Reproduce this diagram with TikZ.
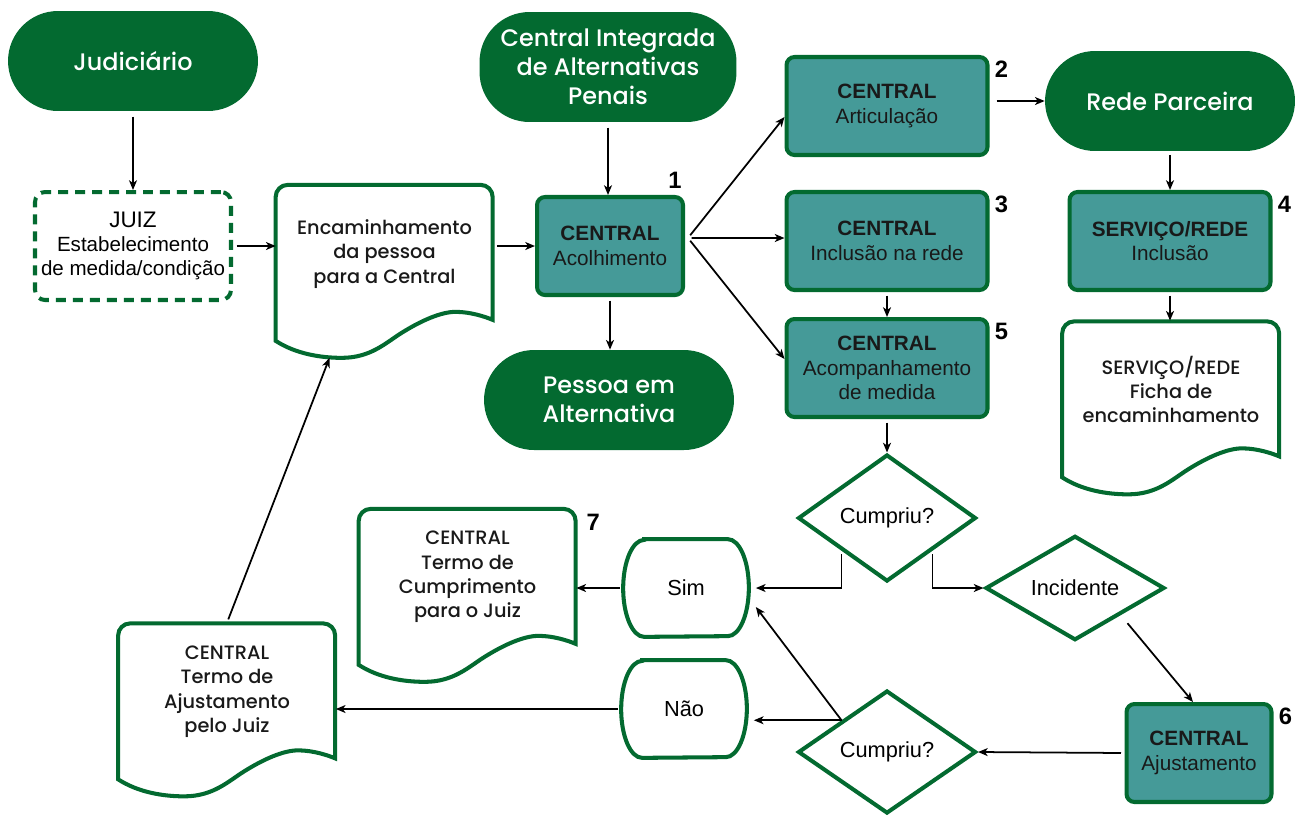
\documentclass[tikz,border=0pt]{standalone}
\usepackage{fontspec}
\setmainfont{Liberation Sans}
\newfontfamily\mont{Poppins Medium}
\usepackage{tikz}
\usetikzlibrary{positioning,calc,shapes,shapes.geometric,arrows.meta}

\definecolor{cjgreen}{HTML}{036A30}
\definecolor{cjteal}{HTML}{459A98}

% outline of a document symbol around an empty node
\newcommand\docshape[1]{%
  \begin{scope}[shift={(#1.south west)},x=1cm,y=1cm]
    \draw[cjgreen,line width=2.3pt] (0,0.34) .. controls (0.4,0.08) and (0.9,0) .. (1.32,0)
      .. controls (1.9,0) and (2.2,0.3) .. (2.52,0.5)
      .. controls (2.9,0.7375) and (3.3,0.92) .. (3.6,0.92)
      .. controls (3.9,0.92) and (4.2,0.82) .. (4.34,0.76)
      -- (4.34,3.22) arc[start angle=0,end angle=90,radius=0.24cm]
      -- (0.24,3.46) arc[start angle=90,end angle=180,radius=0.24cm] -- cycle;
  \end{scope}}
% outline with bulging ends around an answer node
\newcommand\answershape[1]{%
  \draw[cjgreen,line width=2.3pt] ([xshift=0.42cm]#1.north west) -- ([xshift=-0.42cm]#1.north east)
    arc[start angle=90,end angle=-90,x radius=0.42cm,y radius=0.97cm]
    -- ([xshift=0.42cm]#1.south west)
    arc[start angle=270,end angle=90,x radius=0.42cm,y radius=0.97cm] -- cycle;}

\begin{document}
\begin{tikzpicture}[x=0.02cm,y=-0.02cm,
    pill/.style={rectangle,rounded corners=1cm,fill=cjgreen,text=white,align=center,
      minimum width=5.0cm,minimum height=2.0cm,font=\mont\fontsize{13.6}{16.4}\selectfont},
    centralbox/.style={rectangle,rounded corners=0.16cm,fill=cjteal,draw=cjgreen,line width=2.3pt,
      align=center,text=black!90,minimum width=4.02cm,minimum height=1.96cm,
      font=\fontsize{11.8}{14}\selectfont},
    juizbox/.style={rectangle,rounded corners=0.2cm,draw=cjgreen,line width=2.3pt,
      dash pattern=on 0.2cm off 0.14cm,align=center,minimum width=3.92cm,minimum height=2.16cm,
      font=\fontsize{11.7}{13.9}\selectfont},
    doc/.style={rectangle,inner sep=0pt,minimum width=4.34cm,minimum height=3.46cm},
    doctext/.style={align=center,text=black!90,font=\mont\fontsize{11}{13.9}\selectfont},
    choice/.style={diamond,draw=cjgreen,line width=2.3pt,inner sep=0pt,
      minimum width=3.56cm,minimum height=2.54cm,font=\fontsize{12.4}{14}\selectfont},
    answer/.style={rectangle,minimum width=2.5cm,minimum height=1.94cm,
      font=\fontsize{12.4}{14}\selectfont},
    num/.style={inner sep=0pt,font=\bfseries\fontsize{13.5}{14}\selectfont},
    conn/.style={-{Stealth[length=5.5pt,width=4.5pt,inset=1.5pt]},line width=1pt,shorten <=2pt}]

  \useasboundingbox (0,0) rectangle (1304,816);

  % terminals
  \node[pill] (jud) at (133,61) {Judiciário};
  \node[pill,minimum width=5.14cm,minimum height=2.2cm] (cia) at (608,67) {Central Integrada\\de Alternativas\\Penais};
  \node[pill] (pessoa) at (609,400) {Pessoa em\\Alternativa};
  \node[pill] (rede) at (1170,101) {Rede Parceira};

  % judge
  \node[juizbox] (juiz) at (133,246) {{\fontsize{12.8}{13.9}\selectfont JUIZ}\\Estabelecimento\\de medida/condição};

  % documents
  \node[doc] (enc) at (384.5,271) {};
  \docshape{enc}
  \node[doctext] (enc-t) at ([yshift=0.34cm]enc.center) {Encaminhamento\\da pessoa\\para a Central};
  \node[doc] (ficha) at (1171,407.5) {};
  \docshape{ficha}
  \node[doctext] (ficha-t) at ([yshift=0.36cm]ficha.center) {SERVIÇO/REDE\\Ficha de\\encaminhamento};
  \node[doc] (tc) at (467.5,595) {};
  \docshape{tc}
  \node[doctext] (tc-t) at ([yshift=0.36cm]tc.center) {CENTRAL\\Termo de\\Cumprimento\\para o Juiz};
  \node[doc] (ta) at (227,709.5) {};
  \docshape{ta}
  \node[doctext] (ta-t) at ([yshift=0.36cm]ta.center) {CENTRAL\\Termo de\\Ajustamento\\pelo Juiz};

  % central boxes
  \node[centralbox,minimum width=2.92cm] (acol) at (610,246) {\textbf{CENTRAL}\\Acolhimento};
  \node[centralbox] (art) at (887,106) {\textbf{CENTRAL}\\Articulação};
  \node[centralbox] (inc) at (887,241) {\textbf{CENTRAL}\\Inclusão na rede};
  \node[centralbox] (acomp) at (887,368) {\textbf{CENTRAL}\\Acompanhamento\\de medida};
  \node[centralbox] (serv) at (1170,241) {\textbf{SERVIÇO/REDE}\\Inclusão};
  \node[centralbox,minimum width=2.9cm] (aj) at (1199,753) {\textbf{CENTRAL}\\Ajustamento};

  % decisions
  \node[choice] (cump1) at (887,518) {Cumpriu?};
  \node[choice,minimum width=3.58cm,minimum height=1.88cm] (incid) at (1075,588) {Incidente};
  \node[choice,minimum height=2.46cm] (cump2) at (887,752) {Cumpriu?};
  \node[answer] (sim) at (686,588) {Sim};
  \answershape{sim}
  \node[answer] (nao) at (684,709) {Não};
  \answershape{nao}

  % step numbers
  \node[num,anchor=south east] at ([xshift=-0.06cm,yshift=0.12cm]acol.north east) {1};
  \node[num,anchor=north west] at ([xshift=0.1cm,yshift=-0.12cm]art.north east) {2};
  \node[num,anchor=north west] at ([xshift=0.1cm,yshift=-0.12cm]inc.north east) {3};
  \node[num,anchor=north west] at ([xshift=0.1cm,yshift=-0.12cm]serv.north east) {4};
  \node[num,anchor=north west] at ([xshift=0.1cm,yshift=-0.12cm]acomp.north east) {5};
  \node[num,anchor=north west] at ([xshift=0.1cm,yshift=-0.12cm]aj.north east) {6};
  \node[num,anchor=north west] at ([xshift=0.2cm,yshift=-0.12cm]tc.north east) {7};

  % connectors
  \coordinate (fork) at ([xshift=0.06cm,yshift=0.16cm]acol.east);
  \draw[conn,shorten <=3pt] (jud.south) -- (juiz.north);
  \draw[conn] (juiz.east) -- (juiz.east -| enc.west);
  \draw[conn] (acol.west -| enc.east) -- (acol.west);
  \draw[conn,shorten <=3pt] (cia.south) -- (cia.south |- acol.north);
  \draw[conn] (acol.south) -- (acol.south |- pessoa.north);
  \draw[conn] (fork) -- ([yshift=-0.22cm]art.west);
  \draw[conn] (fork) -- ([yshift=0.06cm]inc.west);
  \draw[conn] (fork) -- ([yshift=0.18cm]acomp.west);
  \draw[conn,shorten <=4pt] (art.east |- rede.west) -- (rede.west);
  \draw[conn] (rede.south) -- (serv.north);
  \draw[conn] (serv.south) -- (serv.south |- ficha.north);
  \draw[conn] (inc.south) -- (acomp.north);
  \draw[conn] (acomp.south) -- (cump1.north);
  \draw[conn,shorten >=4pt] (cump1.south west) |- (sim.east);
  \draw[conn] (cump1.south east) |- (incid.west);
  \draw[conn,shorten <=6pt] (incid.south east) -- ([xshift=-0.12cm]aj.north);
  \draw[conn] (aj.west) -- (cump2.east);
  \draw[conn,shorten <=0pt] (cump2.north west) -- ([xshift=0.14cm,yshift=-0.38cm]sim.east);
  \draw[conn,shorten <=0pt,shorten >=4pt] (cump2.north west) -- (cump2.north west -| nao.east);
  \draw[conn] (sim.west) -- (sim.west -| tc.east);
  \draw[conn] (nao.west) -- (nao.west -| ta.east);
  \draw[conn] (ta.north) -- ([xshift=-1.1cm]enc.south);
\end{tikzpicture}
\end{document}
